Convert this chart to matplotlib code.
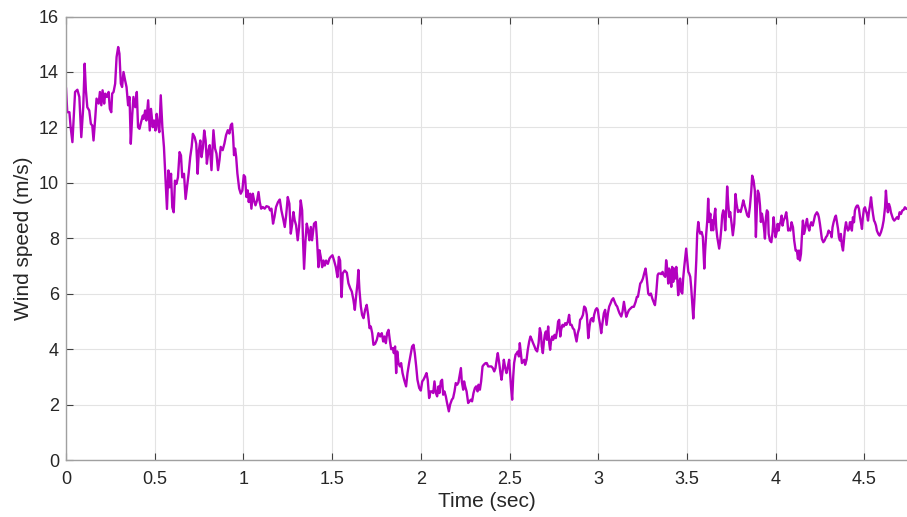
import numpy as np
import matplotlib
matplotlib.use("Agg")
import matplotlib.pyplot as plt

plt.rcParams['font.family'] = ['Liberation Sans', 'DejaVu Sans']

# wind speed trace (time in sec, speed in m/s)
t = [0.000, 0.007, 0.019, 0.026, 0.036, 0.051, 0.064, 0.075, 0.086, 0.097,
     0.105, 0.112, 0.120, 0.131, 0.140, 0.148, 0.155, 0.165, 0.172, 0.184,
     0.191, 0.199, 0.206, 0.215, 0.221, 0.230, 0.240, 0.247, 0.255, 0.260,
     0.268, 0.277, 0.285, 0.294, 0.301, 0.309, 0.316, 0.324, 0.333, 0.341,
     0.350, 0.358, 0.365, 0.373, 0.380, 0.390, 0.399, 0.406, 0.414, 0.423,
     0.433, 0.438, 0.446, 0.453, 0.463, 0.472, 0.479, 0.489, 0.496, 0.504,
     0.511, 0.519, 0.526, 0.534, 0.543, 0.552, 0.562, 0.569, 0.577, 0.584,
     0.592, 0.599, 0.607, 0.614, 0.622, 0.631, 0.640, 0.648, 0.655, 0.665,
     0.674, 0.682, 0.691, 0.700, 0.708, 0.715, 0.725, 0.734, 0.742, 0.749,
     0.757, 0.764, 0.772, 0.779, 0.787, 0.794, 0.803,
     0.810, 0.820, 0.831, 0.840, 0.848, 0.857, 0.865, 0.872, 0.883, 0.893,
     0.902, 0.912, 0.921, 0.929, 0.936, 0.942, 0.947, 0.953, 0.959, 0.966,
     0.976, 0.985, 0.994, 1.002, 1.009, 1.017, 1.024, 1.030, 1.038, 1.045,
     1.053, 1.060, 1.068, 1.077, 1.085, 1.092, 1.100, 1.109, 1.120, 1.130,
     1.143, 1.150, 1.158, 1.167, 1.175, 1.184, 1.195, 1.205, 1.214, 1.224,
     1.233, 1.241, 1.250, 1.259, 1.267, 1.274, 1.282, 1.289, 1.297, 1.306,
     1.314, 1.323, 1.331, 1.336, 1.342, 1.350, 1.357, 1.365, 1.372, 1.380,
     1.387, 1.398, 1.408, 1.415, 1.423, 1.429, 1.436, 1.444, 1.451, 1.459,
     1.466, 1.476, 1.485, 1.492, 1.502, 1.511, 1.521, 1.530, 1.538, 1.545,
     1.553,
     1.560, 1.571, 1.583, 1.592, 1.602, 1.611, 1.620, 1.628, 1.635, 1.643,
     1.648, 1.654, 1.662, 1.669, 1.677, 1.686, 1.695, 1.703, 1.711, 1.718,
     1.726, 1.733, 1.742, 1.752, 1.761, 1.771, 1.780, 1.788, 1.795, 1.803,
     1.810, 1.818, 1.825, 1.833, 1.842, 1.848, 1.855, 1.861, 1.867, 1.874,
     1.882, 1.889, 1.897, 1.906, 1.917, 1.925, 1.934, 1.944, 1.951, 1.959,
     1.966, 1.974, 1.981, 1.991, 2.000, 2.008, 2.015, 2.024, 2.032, 2.039,
     2.047, 2.055, 2.062, 2.070, 2.077, 2.085, 2.092, 2.100, 2.105, 2.113,
     2.120, 2.126, 2.133, 2.141, 2.148, 2.158, 2.165, 2.175, 2.182, 2.190,
     2.197, 2.205, 2.212, 2.218, 2.226, 2.231, 2.239, 2.244, 2.250, 2.258,
     2.267, 2.274, 2.282, 2.289, 2.297, 2.305, 2.312, 2.320, 2.325, 2.333,
     2.340, 2.348, 2.355, 2.365, 2.372, 2.380,
     2.398, 2.406, 2.414, 2.421, 2.429, 2.434, 2.442, 2.449, 2.455, 2.462,
     2.468, 2.476, 2.483, 2.491, 2.498, 2.504, 2.509, 2.515, 2.521, 2.526,
     2.534, 2.541, 2.547, 2.553, 2.558, 2.564, 2.570, 2.577, 2.583, 2.588,
     2.596, 2.603, 2.611, 2.618, 2.626, 2.633, 2.641, 2.648, 2.656, 2.664,
     2.671, 2.677, 2.682, 2.688, 2.694, 2.699, 2.705, 2.711, 2.718, 2.724,
     2.729, 2.735, 2.741, 2.746, 2.754, 2.761, 2.769, 2.774, 2.780, 2.786,
     2.791, 2.799, 2.806, 2.814, 2.821, 2.829, 2.836, 2.842, 2.850, 2.857,
     2.865, 2.870, 2.878, 2.885, 2.893, 2.898, 2.906, 2.914, 2.921, 2.929,
     2.936, 2.944, 2.951, 2.957, 2.964, 2.972, 2.977, 2.985, 2.992, 2.998,
     3.004, 3.011, 3.017, 3.024, 3.032, 3.039, 3.047, 3.055, 3.062, 3.070,
     3.077, 3.085, 3.092, 3.100, 3.107, 3.113, 3.120, 3.130,
     3.137, 3.145, 3.152, 3.158, 3.165, 3.173, 3.182, 3.192, 3.201, 3.211,
     3.218, 3.224, 3.229, 3.237, 3.244, 3.252, 3.259, 3.267, 3.274, 3.282,
     3.289, 3.297, 3.305, 3.312, 3.320, 3.327, 3.335, 3.340, 3.348, 3.355,
     3.363, 3.370, 3.378, 3.383, 3.389, 3.395, 3.400, 3.406, 3.412, 3.417,
     3.423, 3.429, 3.434, 3.440, 3.445, 3.451, 3.457, 3.462, 3.468, 3.474,
     3.479, 3.485, 3.491, 3.496, 3.502, 3.508, 3.513, 3.519, 3.524, 3.530,
     3.536, 3.541, 3.547, 3.553, 3.558, 3.564, 3.570, 3.575, 3.583, 3.590,
     3.598, 3.603, 3.609, 3.615, 3.620, 3.626, 3.632, 3.637, 3.643, 3.648,
     3.654, 3.660, 3.665, 3.671, 3.677, 3.682, 3.688, 3.694, 3.699, 3.705,
     3.711, 3.716, 3.722, 3.727, 3.733, 3.739, 3.744, 3.752, 3.759, 3.767,
     3.774, 3.780, 3.788, 3.795, 3.803, 3.810, 3.818, 3.825, 3.833, 3.840,
     3.848, 3.855, 3.863, 3.868, 3.876, 3.883, 3.889, 3.895, 3.900, 3.906,
     3.912, 3.917, 3.923, 3.929, 3.934, 3.940, 3.946, 3.951, 3.957,
     3.961, 3.968, 3.976, 3.983, 3.989, 3.994, 4.000, 4.006, 4.011, 4.017,
     4.023, 4.028, 4.034, 4.039, 4.045, 4.053, 4.060, 4.066, 4.071, 4.077,
     4.083, 4.090, 4.098, 4.105, 4.113, 4.120, 4.126, 4.132, 4.137, 4.143,
     4.148, 4.154, 4.160, 4.165, 4.171, 4.177, 4.182, 4.190, 4.195, 4.201,
     4.209, 4.216, 4.222, 4.227, 4.233, 4.239, 4.244, 4.250, 4.256, 4.261,
     4.269, 4.276, 4.284, 4.291, 4.299, 4.305, 4.310, 4.316, 4.321, 4.327,
     4.335, 4.340, 4.346, 4.352, 4.357, 4.363, 4.368, 4.374, 4.380, 4.385,
     4.391, 4.397, 4.402, 4.408, 4.414, 4.419, 4.425, 4.430, 4.436, 4.442,
     4.447, 4.453, 4.459, 4.464, 4.470, 4.476, 4.481, 4.487, 4.492, 4.498,
     4.504, 4.509, 4.515, 4.521, 4.526, 4.532, 4.538, 4.543, 4.549, 4.555,
     4.560, 4.566, 4.571, 4.579, 4.586, 4.594, 4.602, 4.609, 4.617, 4.622,
     4.628, 4.633, 4.639, 4.645, 4.650, 4.656, 4.662, 4.669, 4.677, 4.684,
     4.692, 4.699, 4.707, 4.714, 4.722, 4.729, 4.737, 4.750]

v = [13.40, 12.55, 12.55, 12.01, 11.47, 13.28, 13.36, 13.10, 11.65, 12.73,
     14.30, 13.34, 12.73, 12.61, 12.13, 12.07, 11.53, 12.37, 13.04, 12.86,
     13.28, 12.80, 13.34, 12.86, 13.22, 13.10, 13.28, 12.67, 12.55, 13.22,
     13.28, 13.58, 14.54, 14.90, 14.66, 13.58, 13.46, 14.00, 13.70, 13.46,
     12.80, 13.10, 11.41, 12.43, 13.10, 12.73, 13.28, 12.01, 11.95, 12.19,
     12.43, 12.31, 12.61, 12.25, 12.98, 11.89, 12.67, 12.01, 12.25, 11.89,
     12.49, 12.07, 11.83, 13.16, 12.01, 11.29, 9.96, 9.06, 10.45, 9.84,
     10.33, 9.12, 8.94, 10.08, 9.96, 10.20, 11.11, 10.99, 10.20, 10.33,
     9.42, 9.84, 10.33, 10.93, 11.29, 11.77, 11.65, 11.41, 10.33, 11.17,
     11.53, 10.93, 11.29, 11.89, 11.53, 10.69, 11.17,
     11.36, 10.46, 11.90, 11.24, 11.06, 10.46, 10.82, 11.30, 11.18, 11.42,
     11.72, 11.90, 11.78, 12.08, 12.14, 11.66, 11.00, 11.24, 10.94, 10.34,
     9.80, 9.61, 9.73, 10.28, 10.22, 9.49, 9.73, 9.31, 9.61, 9.07,
     9.61, 9.37, 9.19, 9.37, 9.67, 9.31, 9.07, 9.13, 9.07, 9.16,
     9.13, 9.01, 9.07, 8.53, 8.77, 9.13, 9.31, 9.40, 9.01, 8.71,
     8.41, 8.83, 9.49, 9.25, 8.17, 8.47, 8.95, 8.65, 8.47, 7.93,
     8.41, 9.37, 9.01, 7.93, 6.90, 7.93, 8.53, 8.29, 7.93, 8.41,
     7.93, 8.53, 8.59, 7.93, 6.96, 7.57, 7.33, 6.96, 7.20, 7.02,
     7.20, 7.08, 7.27, 7.33, 7.39, 7.20, 6.96, 6.60, 7.33, 7.20,
     5.88,
     6.74, 6.84, 6.76, 6.38, 6.20, 6.08, 5.78, 5.42, 5.90, 6.38,
     6.86, 6.14, 5.54, 5.24, 5.12, 5.42, 5.60, 5.24, 4.76, 4.82,
     4.58, 4.16, 4.19, 4.34, 4.58, 4.46, 4.58, 4.28, 4.46, 4.22,
     4.58, 4.70, 4.34, 4.00, 4.04, 3.86, 4.10, 3.14, 3.92, 3.50,
     3.38, 3.50, 3.14, 2.90, 2.66, 3.14, 3.50, 3.86, 4.10, 4.16,
     3.86, 3.38, 2.90, 2.60, 2.51, 2.84, 2.90, 3.02, 3.14, 2.90,
     2.24, 2.48, 2.48, 2.42, 2.84, 2.42, 2.30, 2.66, 2.42, 2.84,
     2.90, 2.36, 2.48, 2.30, 2.06, 1.76, 2.00, 2.18, 2.24, 2.48,
     2.78, 2.72, 2.80, 3.02, 3.32, 2.84, 2.54, 2.84, 2.66, 2.48,
     2.06, 2.12, 2.18, 2.12, 2.42, 2.60, 2.66, 2.48, 2.72, 2.54,
     2.84, 3.38, 3.44, 3.50, 3.50, 3.38,
     3.38, 3.32, 3.20, 3.32, 3.68, 3.86, 3.50, 3.14, 2.90, 3.26,
     3.62, 3.32, 3.14, 3.38, 3.62, 3.08, 2.60, 2.18, 3.02, 3.50,
     3.80, 3.86, 3.92, 3.74, 4.22, 3.86, 3.50, 3.56, 3.62, 3.44,
     3.62, 3.98, 4.28, 4.46, 4.34, 4.22, 4.10, 3.98, 3.92, 4.22,
     4.76, 4.58, 4.10, 3.86, 4.28, 4.52, 4.64, 4.34, 4.82, 4.22,
     3.98, 4.34, 4.46, 4.34, 4.52, 4.40, 4.70, 5.00, 5.06, 4.46,
     4.70, 4.88, 4.82, 4.94, 4.88, 5.00, 5.24, 4.88, 4.88, 4.76,
     4.70, 4.52, 4.28, 4.58, 4.76, 5.06, 5.12, 5.24, 5.54, 5.48,
     5.24, 4.40, 4.82, 5.06, 5.12, 5.00, 5.24, 5.42, 5.48, 5.42,
     5.12, 4.88, 4.58, 4.94, 5.30, 5.42, 4.88, 5.30, 5.54, 5.66,
     5.78, 5.84, 5.72, 5.60, 5.54, 5.42, 5.30, 5.18,
     5.35, 5.71, 5.41, 5.17, 5.29, 5.41, 5.47, 5.53, 5.53, 5.71,
     5.89, 5.89, 6.07, 6.37, 6.43, 6.55, 6.73, 6.91, 6.55, 6.01,
     5.95, 6.01, 5.83, 5.71, 5.59, 6.01, 6.67, 6.73, 6.73, 6.71,
     6.79, 6.67, 6.61, 7.21, 6.91, 6.37, 6.91, 6.67, 6.25, 6.97,
     6.43, 6.91, 6.55, 6.97, 6.61, 5.95, 6.43, 6.55, 6.07, 6.01,
     6.55, 6.97, 7.33, 7.63, 7.21, 6.79, 6.73, 6.61, 6.25, 5.65,
     5.11, 5.65, 6.37, 7.21, 8.17, 8.59, 8.29, 8.17, 8.23, 8.05,
     6.91, 7.57, 8.17, 8.65, 9.43, 8.59, 8.89, 8.29, 8.65, 8.29,
     8.77, 9.07, 8.41, 8.05, 7.81, 7.63, 7.93, 8.35, 8.83, 9.01,
     8.83, 8.29, 9.07, 9.87, 9.25, 8.77, 8.95, 8.53, 8.11, 8.53,
     9.60, 9.25, 8.95, 9.01, 8.95, 9.13, 9.37, 9.19, 9.01, 8.83,
     8.77, 9.13, 9.72, 10.26, 10.08, 9.72, 8.05, 9.19, 9.72, 9.60,
     9.19, 8.59, 8.89, 8.65, 8.41, 7.99, 8.77, 9.01, 8.95,
     8.16, 7.92, 7.86, 8.22, 8.76, 8.40, 8.04, 8.22, 8.52, 8.28,
     8.52, 8.58, 8.82, 8.46, 8.64, 8.76, 8.94, 8.64, 8.28, 8.34,
     8.28, 8.58, 8.40, 7.92, 7.56, 7.56, 7.26, 7.56, 7.20, 7.44,
     8.04, 8.64, 8.16, 8.28, 8.52, 8.70, 8.46, 8.28, 8.46, 8.58,
     8.46, 8.64, 8.82, 8.88, 8.94, 8.88, 8.76, 8.52, 8.22, 7.98,
     7.86, 7.92, 8.04, 8.10, 8.28, 8.22, 8.22, 8.04, 8.40, 8.58,
     8.76, 8.82, 8.58, 8.34, 8.04, 7.92, 8.16, 7.74, 7.56, 7.92,
     8.34, 8.58, 8.40, 8.28, 8.34, 8.58, 8.58, 8.28, 8.76, 8.58,
     9.00, 9.12, 9.18, 9.18, 9.06, 8.76, 8.58, 8.34, 8.76, 9.06,
     9.12, 9.00, 8.88, 8.64, 8.94, 9.18, 9.48, 9.18, 8.88, 8.64,
     8.58, 8.46, 8.28, 8.16, 8.10, 8.22, 8.40, 8.64, 9.12, 9.72,
     9.18, 8.94, 9.24, 9.12, 8.94, 8.82, 8.70, 8.64, 8.70, 8.76,
     8.70, 8.94, 8.88, 9.00, 9.03, 9.12, 9.06, 9.10]

fig = plt.figure(figsize=(9.07, 5.17), dpi=100)
ax = fig.add_axes([0.0728, 0.110, 0.929, 0.858])

ax.plot(t, v, color='#B300BF', linewidth=1.7)

ax.set_xlim(0, 4.75)
ax.set_ylim(0, 16)
ax.set_xticks(np.arange(0, 4.6, 0.5))
ax.set_xticklabels(['0', '0.5', '1', '1.5', '2', '2.5', '3', '3.5', '4', '4.5'])
ax.set_yticks(np.arange(0, 17, 2))

ax.grid(True, color='#E3E3E3', linewidth=0.8)
ax.set_axisbelow(True)
for side in ['left', 'bottom', 'top']:
    ax.spines[side].set_color('#A0A0A0')
    ax.spines[side].set_linewidth(1.0)
ax.spines['right'].set_visible(False)
ax.tick_params(direction='in', length=5, width=0.8, color='#404040',
               labelsize=13, labelcolor='#262626', top=True)
ax.tick_params(axis='x', pad=8)
ax.tick_params(axis='y', pad=5)

ax.set_xlabel('Time (sec)', fontsize=15, color='#262626', labelpad=3)
ax.set_ylabel('Wind speed (m/s)', fontsize=15, color='#262626', labelpad=4)

fig.savefig('out.png', dpi=100)
